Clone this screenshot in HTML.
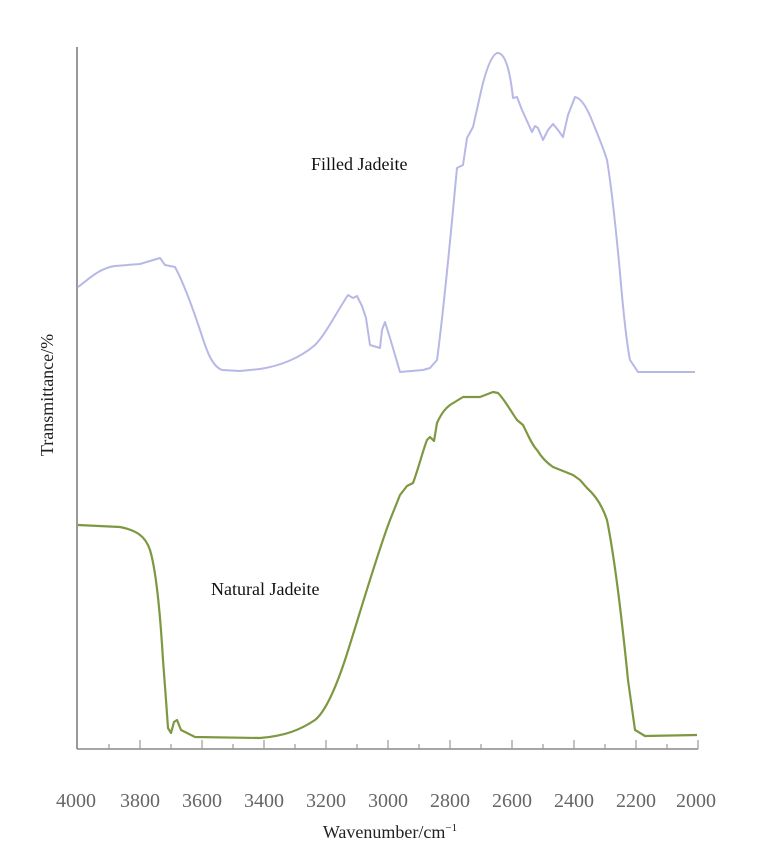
<!DOCTYPE html>
<html><head><meta charset="utf-8"><style>
html,body{margin:0;padding:0;background:#fff;}
svg{display:block;}
text{font-family:"Liberation Serif",serif;}
</style></head><body>
<svg width="768" height="848" viewBox="0 0 768 848" xmlns="http://www.w3.org/2000/svg">
<line x1="77" y1="47" x2="77" y2="749" stroke="#999" stroke-width="2"/>
<line x1="77" y1="749" x2="698" y2="749" stroke="#888" stroke-width="1.5"/>
<g stroke="#999" stroke-width="1.2">
<line x1="109" y1="749" x2="109" y2="744"/><line x1="140" y1="749" x2="140" y2="740"/>
<line x1="171" y1="749" x2="171" y2="744"/><line x1="202" y1="749" x2="202" y2="740"/>
<line x1="233" y1="749" x2="233" y2="744"/><line x1="264" y1="749" x2="264" y2="740"/>
<line x1="295" y1="749" x2="295" y2="744"/><line x1="326" y1="749" x2="326" y2="740"/>
<line x1="357" y1="749" x2="357" y2="744"/><line x1="388" y1="749" x2="388" y2="740"/>
<line x1="419" y1="749" x2="419" y2="744"/><line x1="450" y1="749" x2="450" y2="740"/>
<line x1="481" y1="749" x2="481" y2="744"/><line x1="512" y1="749" x2="512" y2="740"/>
<line x1="543" y1="749" x2="543" y2="744"/><line x1="574" y1="749" x2="574" y2="740"/>
<line x1="605" y1="749" x2="605" y2="744"/><line x1="636" y1="749" x2="636" y2="740"/>
<line x1="667" y1="749" x2="667" y2="744"/><line x1="698" y1="749" x2="698" y2="740"/>
</g>
<g font-size="20" fill="#666" text-anchor="middle">
<text x="76" y="807">4000</text><text x="140" y="807">3800</text><text x="202" y="807">3600</text>
<text x="264" y="807">3400</text><text x="326" y="807">3200</text><text x="388" y="807">3000</text>
<text x="450" y="807">2800</text><text x="512" y="807">2600</text><text x="574" y="807">2400</text>
<text x="636" y="807">2200</text><text x="696" y="807">2000</text>
</g>
<text x="390" y="838" font-size="18" text-anchor="middle" fill="#222">Wavenumber/cm<tspan font-size="11" dy="-7">−1</tspan></text>
<text transform="translate(53,395) rotate(-90)" font-size="18" text-anchor="middle" fill="#222">Transmittance/%</text>
<text x="311" y="170" font-size="18" fill="#111">Filled Jadeite</text>
<text x="211" y="595" font-size="18" fill="#111">Natural Jadeite</text>
<path fill="none" stroke="#b8b8e6" stroke-width="2" stroke-linejoin="round" d="M78,287 C90,278 100,268 115,266 L140,264 L160,258 L165,265 L175,267 C182,280 190,300 200,330 C207,352 212,366 222,370 L240,371 L260,369 C280,366 300,358 315,345 C325,335 335,315 348,295 L353,298 L357,296 L362,306 L366,318 L370,345 L380,348 L382,330 L385,322 L390,338 L400,372 L423,370 L430,368 L437,360 C445,300 452,220 457,168 L463,165 L467,138 L473,127 C477,110 480,95 483,83 C487,68 492,55 497,53 C505,52 510,70 513,98 L517,97 L522,110 L532,132 L535,126 L538,128 L543,140 L548,130 L553,124 L558,130 L563,137 L568,115 L575,97 C582,98 588,110 593,123 C600,140 604,150 607,160 C612,190 616,230 620,273 C624,320 627,345 630,360 L638,372 L695,372"/>
<path fill="none" stroke="#7d9840" stroke-width="2.2" stroke-linejoin="round" d="M78,525 L120,527 C135,530 145,535 150,550 C156,570 160,610 163,660 L166,700 L168,728 L171,733 L174,722 L177,720 L181,730 L195,737 L260,738 C285,736 300,730 315,720 C325,712 335,690 345,660 C358,620 375,560 390,520 L400,495 L407,486 L413,483 C418,470 423,450 427,440 L430,437 L434,441 L437,423 C442,412 446,408 450,405 L463,397 L480,397 L493,392 L498,393 C505,400 510,410 517,420 L523,425 C528,435 532,445 537,450 C542,458 547,463 553,467 L573,475 L580,480 L587,488 C595,495 602,505 607,520 C615,560 622,620 628,680 L635,730 L645,736 L697,735"/>
</svg>
</body></html>
